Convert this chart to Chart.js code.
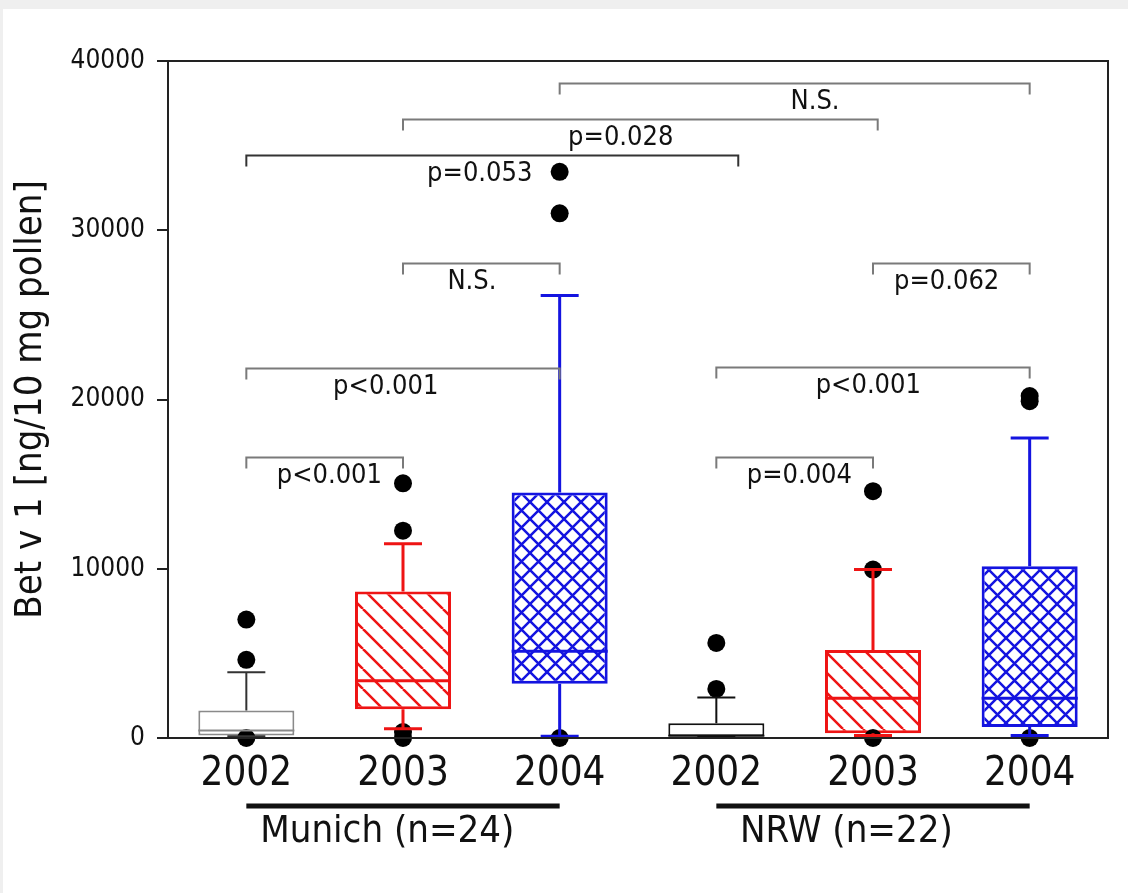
<!DOCTYPE html>
<html>
<head>
<meta charset="utf-8">
<script src="https://cdn.jsdelivr.net/npm/chart.js@4"></script>
<style>
    body { margin: 0; background: #efefef; }
    #wrap { position: absolute; left: 3px; top: 9px; width: 1125px; height: 884px; background: #fff; }
</style>
</head>
<body>
<div id="wrap"><canvas id="chart" width="1125" height="884"></canvas></div>
<script>
// --- data ---
const positions = [1, 2, 3, 4, 5, 6];
const xLabels = ['2002', '2003', '2004', '2002', '2003', '2004'];
const q1 = [150, 1700, 3200, 110, 280, 650];
const q3 = [1620, 8650, 14500, 870, 5200, 10150];
const medians = [450, 3380, 5120, 130, 2350, 2350];
const whiskerLow = [100, 550, 100, 100, 150, 150];
const whiskerHigh = [3880, 11480, 26150, 2400, 9950, 17720];
const outliers = [
    [7000, 4620, 0],
    [15050, 12250, 350, 0],
    [33450, 31000, 0],
    [5620, 2900],
    [14580, 9950, 0],
    [20200, 19900, 0]
];

// significance brackets
const bracketFrom = [1, 1, 2, 1, 2, 3, 4, 4, 5];
const bracketTo = [2, 3, 3, 4.14, 5.03, 6, 5, 6, 6];
const bracketY = [16600, 21850, 28050, 34450, 36600, 38700, 16600, 21900, 28050];
const bracketText = ['p<0.001', 'p<0.001', 'N.S.', 'p=0.053', 'p=0.028', 'N.S.', 'p=0.004', 'p<0.001', 'p=0.062'];
const bracketTextX = [1.53, 1.89, 2.44, 2.49, 3.39, 4.63, 4.53, 4.97, 5.47];

// site groups under the axis
const groupNames = ['Munich (n=24)', 'NRW (n=22)'];
const groupFrom = [1, 4];
const groupTo = [3, 6];
const groupTextX = [1.9, 4.83];

const yTicks = [0, 10000, 20000, 30000, 40000];

// --- styles ---
const FONT = "'DejaVu Sans Condensed', 'DejaVu Sans', sans-serif";
const RED = '#ee1414';
const BLUE = '#1414e0';

function makePattern(color, size, cross) {
    const c = document.createElement('canvas');
    c.width = size; c.height = size;
    const g = c.getContext('2d');
    g.fillStyle = '#fff';
    g.fillRect(0, 0, size, size);
    g.strokeStyle = color;
    g.lineWidth = 2.5;
    g.beginPath();
    for (const off of [-size, 0, size]) {
        g.moveTo(off, 0); g.lineTo(off + size, size);
        if (cross) { g.moveTo(off + size, 0); g.lineTo(off, size); }
    }
    g.stroke();
    return g.createPattern(c, 'repeat');
}

const redHatch = makePattern(RED, 20, false);
const blueHatch = makePattern(BLUE, 17, true);

const boxFill = ['#fff', redHatch, blueHatch, '#fff', redHatch, blueHatch];
const boxLine = ['#8a8a8a', RED, BLUE, '#111', RED, BLUE];
const whiskerLine = ['#333', RED, BLUE, '#111', RED, BLUE];
const boxWidth = [2, 3, 3, 2, 3, 3];
const bracketColor = ['#7a7a7a', '#7a7a7a', '#7a7a7a', '#333', '#7a7a7a', '#7a7a7a', '#7a7a7a', '#7a7a7a', '#7a7a7a'];

// whiskers, caps and medians, drawn over the boxes and dots
const boxParts = {
    id: 'boxParts',
    afterDatasetsDraw(chart) {
        const {ctx, scales: {x, y}} = chart;
        const bars = chart.getDatasetMeta(0).data;
        ctx.save();
        positions.forEach((p, i) => {
            const cx = x.getPixelForValue(p);
            const half = bars[i].width / 2;
            ctx.strokeStyle = whiskerLine[i];
            ctx.lineWidth = boxWidth[i];
            ctx.beginPath();
            ctx.moveTo(cx, y.getPixelForValue(q3[i]));
            ctx.lineTo(cx, y.getPixelForValue(whiskerHigh[i]));
            ctx.moveTo(cx, y.getPixelForValue(q1[i]));
            ctx.lineTo(cx, y.getPixelForValue(whiskerLow[i]));
            ctx.moveTo(cx - 19, y.getPixelForValue(whiskerHigh[i]));
            ctx.lineTo(cx + 19, y.getPixelForValue(whiskerHigh[i]));
            ctx.moveTo(cx - 19, y.getPixelForValue(whiskerLow[i]));
            ctx.lineTo(cx + 19, y.getPixelForValue(whiskerLow[i]));
            ctx.stroke();

            ctx.strokeStyle = boxLine[i];
            ctx.beginPath();
            ctx.moveTo(cx - half, y.getPixelForValue(medians[i]));
            ctx.lineTo(cx + half, y.getPixelForValue(medians[i]));
            ctx.stroke();
        });
        ctx.restore();
    }
};

// frame, brackets, group labels
const annotations = {
    id: 'annotations',
    afterDraw(chart) {
        const {ctx, chartArea: a, scales: {x, y}} = chart;
        ctx.save();
        ctx.strokeStyle = '#222';
        ctx.lineWidth = 2;
        ctx.strokeRect(a.left, a.top, a.right - a.left, a.bottom - a.top);

        ctx.font = '27px ' + FONT;
        ctx.fillStyle = '#111';
        ctx.textAlign = 'center';
        ctx.textBaseline = 'middle';
        bracketY.forEach((v, i) => {
            const by = Math.round(y.getPixelForValue(v)) + 0.5;
            const x0 = x.getPixelForValue(bracketFrom[i]);
            const x1 = x.getPixelForValue(bracketTo[i]);
            ctx.strokeStyle = bracketColor[i];
            ctx.lineWidth = 2;
            ctx.beginPath();
            ctx.moveTo(x0, by + 11); ctx.lineTo(x0, by);
            ctx.lineTo(x1, by); ctx.lineTo(x1, by + 11);
            ctx.stroke();
            ctx.fillText(bracketText[i], x.getPixelForValue(bracketTextX[i]), by + 18);
        });

        ctx.font = '38px ' + FONT;
        groupNames.forEach((name, i) => {
            ctx.strokeStyle = '#111';
            ctx.lineWidth = 5;
            ctx.beginPath();
            ctx.moveTo(x.getPixelForValue(groupFrom[i]), a.bottom + 68);
            ctx.lineTo(x.getPixelForValue(groupTo[i]), a.bottom + 68);
            ctx.stroke();
            ctx.fillText(name, x.getPixelForValue(groupTextX[i]), a.bottom + 94);
        });
        ctx.restore();
    }
};

const outlierPoints = [];
outliers.forEach((list, i) => list.forEach(v => outlierPoints.push({ x: positions[i], y: v })));

new Chart(document.getElementById('chart'), {
    type: 'bar',
    data: {
        datasets: [{
            type: 'bar',
            data: positions.map((p, i) => ({ x: p, y: [q1[i], q3[i]] })),
            backgroundColor: boxFill,
            borderColor: boxLine,
            borderWidth: boxWidth,
            borderSkipped: false,
            categoryPercentage: 1,
            barPercentage: 0.613,
            order: 2
        }, {
            type: 'scatter',
            data: outlierPoints,
            pointRadius: 9,
            pointBackgroundColor: '#000',
            pointBorderWidth: 0,
            clip: false,
            order: 1
        }]
    },
    options: {
        responsive: false,
        animation: false,
        layout: { padding: { left: 0, top: 52, right: 20, bottom: 0 } },
        plugins: { legend: { display: false }, tooltip: { enabled: false } },
        scales: {
            x: {
                type: 'linear',
                min: 0.5,
                max: 6.5,
                offset: false,
                grid: { display: false },
                border: { display: false },
                afterBuildTicks: s => { s.ticks = positions.map(v => ({ value: v })); },
                afterFit: s => { s.height = 155; },
                ticks: {
                    font: { size: 40, family: FONT },
                    color: '#111',
                    padding: 5,
                    maxRotation: 0,
                    callback: v => xLabels[positions.indexOf(v)]
                }
            },
            y: {
                min: 0,
                max: 40000,
                grid: { drawOnChartArea: false, drawTicks: true, tickLength: 11, color: '#222', lineWidth: 2 },
                border: { display: false },
                afterBuildTicks: s => { s.ticks = yTicks.map(v => ({ value: v })); },
                afterFit: s => { s.width = 165; },
                ticks: {
                    font: { size: 26, family: FONT },
                    color: '#111',
                    padding: 12,
                    callback: v => String(v)
                },
                title: {
                    display: true,
                    text: 'Bet v 1 [ng/10 mg pollen]',
                    font: { size: 38, family: FONT, lineHeight: 1.2 },
                    color: '#111',
                    padding: { top: 5, bottom: 0 }
                }
            }
        }
    },
    plugins: [boxParts, annotations]
});
</script>
</body>
</html>
